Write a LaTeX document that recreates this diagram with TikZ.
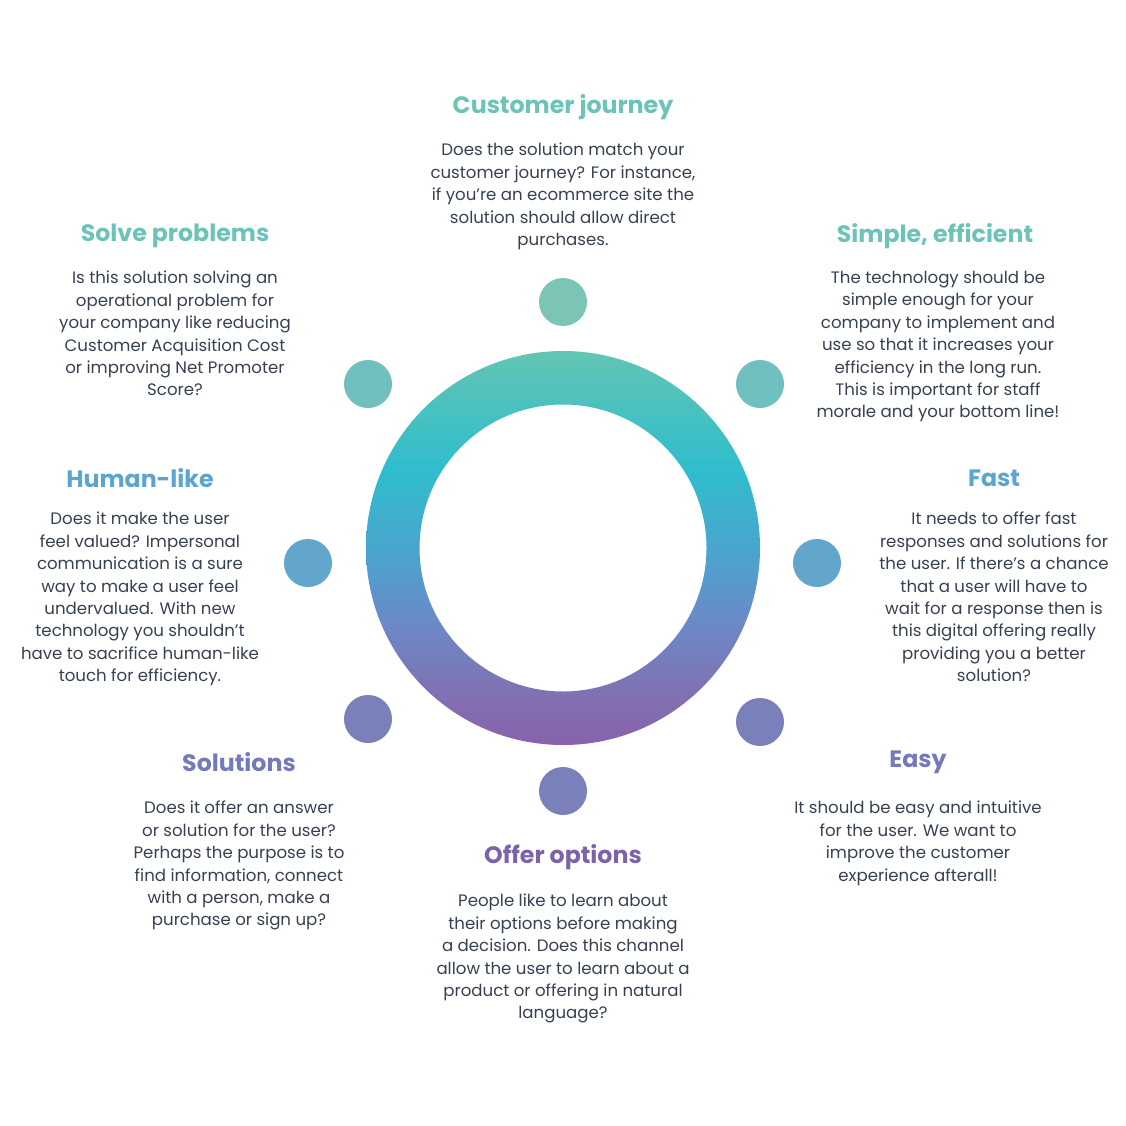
\documentclass[tikz,border=0pt]{standalone}
\usepackage{fontspec}
\setmainfont{Poppins}
\definecolor{ttl1}{HTML}{6CC3B8}
\definecolor{ttl2}{HTML}{5BA5CF}
\definecolor{ttl3}{HTML}{7479BA}
\definecolor{ttl4}{HTML}{7B62AA}
\definecolor{bodyc}{HTML}{364152}
\definecolor{d1}{HTML}{7CC4B6}
\definecolor{d2}{HTML}{6FC0BE}
\definecolor{d3}{HTML}{62A6CB}
\definecolor{d4}{HTML}{7A80BA}
\definecolor{rtop}{HTML}{62C5B3}
\definecolor{rcyan}{HTML}{30BDCD}
\definecolor{rmid}{HTML}{48A6CE}
\definecolor{rlow}{HTML}{6A8AC8}
\definecolor{rlow2}{HTML}{8170B2}
\definecolor{rbot}{HTML}{8862AA}
\pgfdeclareverticalshading{ringshade}{100bp}{color(0bp)=(rbot); color(25bp)=(rbot); color(31bp)=(rlow2); color(41bp)=(rlow); color(50bp)=(rmid); color(60bp)=(rcyan); color(75bp)=(rtop); color(100bp)=(rtop)}
\tikzset{
  ttl/.style={font=\fontsize{23.7}{28}\selectfont\bfseries, inner sep=0pt},
  bodytxt/.style={font=\fontsize{16.6}{22.4}\selectfont, text=bodyc, align=center, anchor=north, inner sep=0pt},
  dot/.style={circle, minimum size=48pt, inner sep=0pt, draw=none},
}
\begin{document}
\begin{tikzpicture}[x=1pt,y=-1pt]
\useasboundingbox[fill=white] (0,0) rectangle (1126,1126);
% ring
\path[shading=ringshade, even odd rule] (563,548) circle[radius=197pt] (563,548) circle[radius=143.5pt];
% dots
\node[dot, fill=d1] (p1) at (563,302) {};
\node[dot, fill=d2] (p2) at (368,384) {};
\node[dot, fill=d2] (p3) at (760,384) {};
\node[dot, fill=d3] (p4) at (308,563) {};
\node[dot, fill=d3] (p5) at (817,563) {};
\node[dot, fill=d4] (p6) at (368,719) {};
\node[dot, fill=d4] (p7) at (760,722) {};
\node[dot, fill=d4] (p8) at (563,791) {};
% titles
\node[ttl, text=ttl1] (t1) at (563,107) {Customer journey};
\node[ttl, text=ttl1] (t2) at (175,236) {Solve problems};
\node[ttl, text=ttl1] (t3) at (935,236) {Simple, efficient};
\node[ttl, text=ttl2] (t4) at (140,478) {Human-like};
\node[ttl, text=ttl2] (t5) at (994,478) {Fast};
\node[ttl, text=ttl3] (t6) at (239,762) {Solutions};
\node[ttl, text=ttl3] (t7) at (918,762) {Easy};
\node[ttl, text=ttl4] (t8) at (563,857) {Offer options};
% bodies
\node[bodytxt] (b1) at (563,143) {Does the solution match your\\customer journey? For instance,\\if you’re an ecommerce site the\\solution should allow direct\\purchases.};
\node[bodytxt] (b2) at (175,271) {Is this solution solving an\\operational problem for\\your company like reducing\\Customer Acquisition Cost\\or improving Net Promoter\\Score?};
\node[bodytxt] (b3) at (938,271) {The technology should be\\simple enough for your\\company to implement and\\use so that it increases your\\efficiency in the long run.\\This is important for staff\\morale and your bottom line!};
\node[bodytxt] (b4) at (140,512) {Does it make the user\\feel valued? Impersonal\\communication is a sure\\way to make a user feel\\undervalued. With new\\technology you shouldn’t\\have to sacrifice human-like\\touch for efficiency.};
\node[bodytxt] (b5) at (994,512) {It needs to offer fast\\responses and solutions for\\the user. If there’s a chance\\that a user will have to\\wait for a response then is\\this digital offering really\\providing you a better\\solution?};
\node[bodytxt] (b6) at (239,801) {Does it offer an answer\\or solution for the user?\\Perhaps the purpose is to\\find information, connect\\with a person, make a\\purchase or sign up?};
\node[bodytxt] (b7) at (918,801) {It should be easy and intuitive\\for the user. We want to\\improve the customer\\experience afterall!};
\node[bodytxt] (b8) at (563,894) {People like to learn about\\their options before making\\a decision. Does this channel\\allow the user to learn about a\\product or offering in natural\\language?};
\end{tikzpicture}
\end{document}
